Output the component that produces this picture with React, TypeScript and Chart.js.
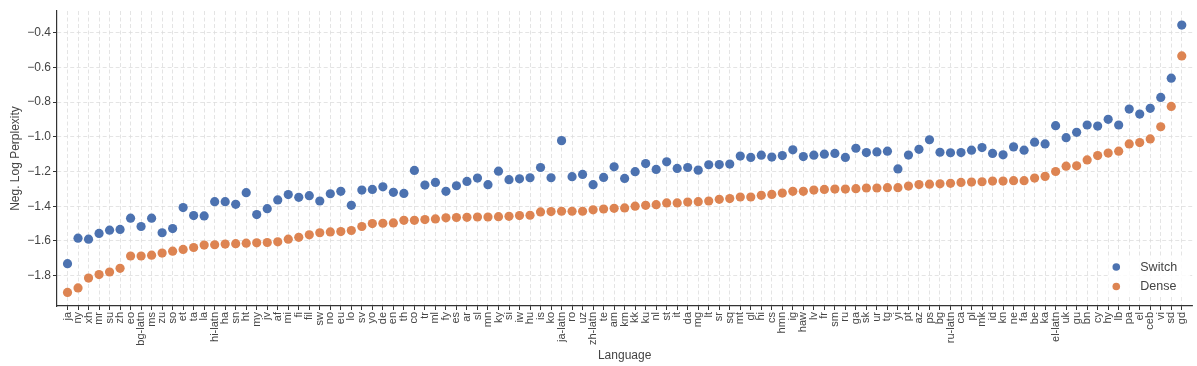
import React, { useEffect, useRef } from "react";
import { Chart, registerables } from "chart.js";

Chart.register(...registerables);

const LANGUAGES = [
  "ja", "ny", "xh", "mr", "su", "zh", "eo", "bg-latn", "ms", "zu", "so", "et", "ta", "la", "hi-latn", "ha", "sn", "ht", "my", "jv",
  "af", "mi", "fi", "fil", "sw", "no", "eu", "lo", "sv", "yo", "de", "en", "th", "co", "tr", "ml", "fy", "es", "ar", "sl",
  "mn", "ky", "si", "iw", "hu", "is", "ko", "ja-latn", "ro", "uz", "zh-latn", "te", "am", "km", "kk", "ku", "nl", "st", "it", "da",
  "mg", "lt", "sr", "sq", "mt", "gl", "hi", "cs", "hmn", "ig", "haw", "lv", "fr", "sm", "ru", "ga", "sk", "ur", "tg", "yi",
  "pt", "az", "ps", "bg", "ru-latn", "ca", "pl", "mk", "id", "kn", "ne", "fa", "be", "ka", "el-latn", "uk", "gu", "bn", "cy", "hy",
  "lb", "pa", "el", "ceb", "vi", "sd", "gd",
];

const SWITCH = [
  -1.731, -1.584, -1.590, -1.557, -1.538, -1.534, -1.469, -1.517, -1.469, -1.553, -1.529, -1.408, -1.454, -1.456, -1.374, -1.374, -1.389, -1.322, -1.448, -1.414,
  -1.364, -1.333, -1.349, -1.339, -1.370, -1.328, -1.314, -1.395, -1.307, -1.303, -1.288, -1.320, -1.326, -1.194, -1.278, -1.263, -1.314, -1.282, -1.257, -1.238,
  -1.276, -1.198, -1.247, -1.242, -1.236, -1.177, -1.236, -1.022, -1.230, -1.217, -1.276, -1.234, -1.173, -1.240, -1.201, -1.154, -1.188, -1.144, -1.182, -1.177,
  -1.192, -1.161, -1.160, -1.157, -1.111, -1.119, -1.106, -1.117, -1.108, -1.075, -1.114, -1.106, -1.100, -1.096, -1.119, -1.066, -1.091, -1.087, -1.083, -1.185,
  -1.105, -1.072, -1.017, -1.089, -1.092, -1.091, -1.077, -1.062, -1.096, -1.104, -1.058, -1.077, -1.031, -1.041, -0.936, -1.005, -0.974, -0.932, -0.938, -0.899,
  -0.932, -0.840, -0.869, -0.836, -0.773, -0.662, -0.356,
];

const DENSE = [
  -1.897, -1.871, -1.814, -1.794, -1.779, -1.758, -1.687, -1.687, -1.682, -1.670, -1.659, -1.649, -1.638, -1.624, -1.622, -1.618, -1.616, -1.613, -1.611, -1.609,
  -1.605, -1.590, -1.579, -1.565, -1.553, -1.548, -1.546, -1.540, -1.517, -1.500, -1.498, -1.496, -1.481, -1.481, -1.477, -1.473, -1.467, -1.465, -1.464, -1.462,
  -1.462, -1.460, -1.458, -1.454, -1.452, -1.433, -1.431, -1.429, -1.429, -1.429, -1.421, -1.416, -1.412, -1.410, -1.400, -1.395, -1.391, -1.381, -1.381, -1.376,
  -1.374, -1.370, -1.360, -1.356, -1.347, -1.347, -1.337, -1.332, -1.324, -1.314, -1.314, -1.307, -1.303, -1.301, -1.301, -1.299, -1.295, -1.295, -1.293, -1.293,
  -1.284, -1.275, -1.273, -1.271, -1.268, -1.263, -1.261, -1.259, -1.255, -1.255, -1.253, -1.253, -1.238, -1.228, -1.200, -1.169, -1.167, -1.133, -1.108, -1.094,
  -1.083, -1.041, -1.033, -1.012, -0.942, -0.825, -0.534,
];

const Y_TICKS = [-1.8, -1.6, -1.4, -1.2, -1.0, -0.8, -0.6, -0.4];

const SERIES_NAMES = ["Switch", "Dense"];
const COLORS = ["#4c72b0", "#dd8452"];

const FONT = "'Liberation Sans', Arial, Helvetica, sans-serif";
const TEXT = "#444444";
const GRID = "#dddddd";
const AXIS = "#333333";

const legendPlugin = {
  id: "insideLegend",
  afterDatasetsDraw(chart: any) {
    const { ctx, chartArea } = chart;
    const boxRight = chartArea.right - 2;
    const boxBottom = chartArea.bottom - 9;
    const boxW = 82;
    const boxH = 40;
    ctx.save();
    ctx.fillStyle = "rgba(255,255,255,0.85)";
    ctx.fillRect(boxRight - boxW, boxBottom - boxH, boxW, boxH);
    ctx.font = `12.5px ${FONT}`;
    ctx.textBaseline = "middle";
    ctx.textAlign = "left";
    chart.data.datasets.forEach((ds: any, i: number) => {
      const cy = boxBottom - boxH + 10 + i * 19.5;
      const mx = boxRight - boxW + 8;
      ctx.beginPath();
      ctx.arc(mx, cy, 3.8, 0, Math.PI * 2);
      ctx.fillStyle = ds.backgroundColor;
      ctx.fill();
      ctx.fillStyle = TEXT;
      ctx.fillText(ds.label, mx + 24, cy + 0.5);
    });
    ctx.restore();
  },
};

export default function App() {
  const canvasRef = useRef<HTMLCanvasElement | null>(null);

  useEffect(() => {
    document.body.style.margin = "0";
    const canvas = canvasRef.current;
    if (!canvas) return;

    const datasets = [SWITCH, DENSE].map((vals, s) => ({
      label: SERIES_NAMES[s],
      data: vals.map((v, i) => ({ x: i, y: v })),
      backgroundColor: COLORS[s],
      borderColor: COLORS[s],
      borderWidth: 0,
      pointRadius: 4.6,
      pointHoverRadius: 4.6,
    }));

    const chart = new Chart(canvas, {
      type: "scatter",
      data: { datasets },
      plugins: [legendPlugin],
      options: {
        animation: false,
        responsive: false,
        maintainAspectRatio: false,
        layout: { padding: { top: 11, right: 4, left: 0, bottom: 0 } },
        plugins: {
          legend: { display: false },
          tooltip: { enabled: false },
        },
        scales: {
          x: {
            type: "linear",
            min: -1,
            max: 107,
            afterBuildTicks: (scale: any) => {
              scale.ticks = LANGUAGES.map((_, i) => ({ value: i }));
            },
            afterFit: (scale: any) => {
              scale.height = 60;
            },
            ticks: {
              autoSkip: false,
              maxRotation: 90,
              minRotation: 90,
              padding: 2,
              color: TEXT,
              font: { family: FONT, size: 11 },
              callback: (v: any) => LANGUAGES[v] ?? "",
            },
            grid: {
              color: GRID,
              lineWidth: 0.8,
              drawTicks: true,
              tickLength: 4,
              tickColor: AXIS,
              tickWidth: 1,
            },
            border: { display: true, color: AXIS, width: 1.2, dash: [4, 2.5] },
            title: {
              display: true,
              text: "Language",
              color: TEXT,
              font: { family: FONT, size: 12 },
              padding: { top: 0, bottom: 3 },
            },
          },
          y: {
            type: "linear",
            min: -1.975,
            max: -0.275,
            afterBuildTicks: (scale: any) => {
              scale.ticks = Y_TICKS.map((v) => ({ value: v }));
            },
            afterFit: (scale: any) => {
              scale.width = 57;
            },
            ticks: {
              padding: 2,
              color: TEXT,
              font: { family: FONT, size: 12 },
              callback: (v: any) => Number(v).toFixed(1).replace("-", "\u2212"),
            },
            grid: {
              color: GRID,
              lineWidth: 0.8,
              drawTicks: true,
              tickLength: 4,
              tickColor: AXIS,
              tickWidth: 1,
            },
            border: { display: true, color: AXIS, width: 1.2, dash: [4, 2.5] },
            title: {
              display: true,
              text: "Neg. Log Perplexity",
              color: TEXT,
              font: { family: FONT, size: 12 },
              padding: { top: 8, bottom: 0 },
            },
          },
        },
      } as any,
    });

    return () => chart.destroy();
  }, []);

  return (
    <div style={{ width: 1197, height: 366, background: "#fff" }}>
      <canvas ref={canvasRef} width={1197} height={366} style={{ display: "block" }} />
    </div>
  );
}
